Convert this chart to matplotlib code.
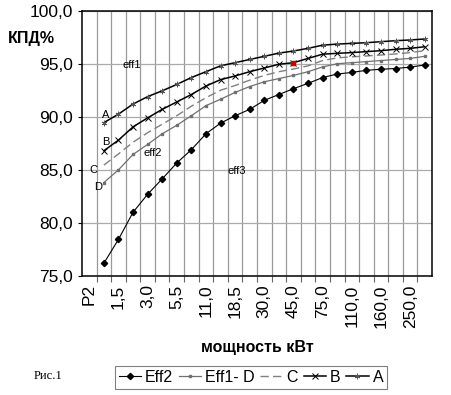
import matplotlib
matplotlib.use('Agg')
import matplotlib.pyplot as plt
import numpy as np

# categories (power, kW); label only every second one
power = ['P2', '1,1', '1,5', '2,2', '3,0', '4,0', '5,5', '7,5', '11,0', '15,0',
         '18,5', '22,0', '30,0', '37,0', '45,0', '55,0', '75,0', '90,0',
         '110,0', '132,0', '160,0', '200,0', '250,0', '315,0']

# efficiency values, one per category starting at '1,1'
effA = [89.45, 90.25, 91.2, 91.9, 92.45, 93.05, 93.7, 94.25, 94.8, 95.1, 95.4,
        95.7, 96.0, 96.2, 96.45, 96.75, 96.85, 96.92, 96.98, 97.08, 97.17,
        97.24, 97.33]
effB = [86.8, 87.8, 89.05, 89.9, 90.7, 91.4, 92.1, 92.9, 93.5, 93.85, 94.25,
        94.6, 94.95, 95.1, 95.5, 95.9, 95.98, 96.05, 96.14, 96.23, 96.36,
        96.45, 96.6]
effC = [85.45, 86.5, 87.6, 88.5, 89.3, 90.1, 91.0, 91.8, 92.5, 92.95, 93.45,
        93.9, 94.25, 94.5, 94.8, 95.3, 95.55, 95.65, 95.73, 95.82, 95.92,
        96.05, 96.23]
effD = [83.8, 85.0, 86.45, 87.4, 88.4, 89.2, 90.1, 91.05, 91.65, 92.3, 92.85,
        93.3, 93.6, 93.9, 94.25, 94.7, 95.0, 95.1, 95.2, 95.3, 95.4, 95.5, 95.7]
eff2 = [76.2, 78.45, 81.0, 82.7, 84.15, 85.65, 86.9, 88.4, 89.4, 90.1, 90.7,
        91.55, 92.1, 92.65, 93.15, 93.7, 94.03, 94.18, 94.38, 94.48, 94.55,
        94.68, 94.88]
markIdx = 13  # highlighted point on B (45,0 kW)

plt.rcParams['font.family'] = ['Liberation Sans', 'DejaVu Sans']

fig = plt.figure(figsize=(4.52, 3.95), dpi=100)
ax = fig.add_axes([0.1814, 0.3013, 0.7744, 0.6717])

x = np.arange(1, len(power)) + 0.5

# grid: vertical lines at category boundaries, horizontal at major y ticks
ax.set_xticks(np.arange(1, len(power)), minor=True)
ax.xaxis.grid(True, which='minor', color='#999999', lw=0.9)
ax.yaxis.grid(True, which='major', color='#aaaaaa', lw=0.9)
ax.set_axisbelow(True)

ax.plot(x, eff2, color='k', lw=0.8, marker='D', ms=3.2, label='Eff2')
ax.plot(x, effD, color='#707070', lw=0.9, marker='s', ms=1.6, label='Eff1- D')
ax.plot(x, effC, color='#808080', lw=1.0, ls=(0, (6, 3)), label='C')
ax.plot(x, effB, color='k', lw=1.1, marker='x', ms=5, mew=0.7, label='B')
ax.plot(x, effA, color='k', lw=1.1, marker=(6, 2, 0), ms=4, mew=0.6,
        mec='#555555', label='A')
ax.plot(x[markIdx], effB[markIdx], 's', color='#d00000', ms=3.5, zorder=5)

ax.set_xlim(0, len(power))
ax.set_ylim(75, 100)
ax.set_yticks(np.arange(75, 101, 5))
ax.set_yticklabels(['{:.1f}'.format(v).replace('.', ',') for v in np.arange(75, 101, 5)],
                   fontsize=12.5)
ax.set_xticks(np.arange(0, len(power), 2) + 0.5)
ax.set_xticklabels(power[::2], rotation=90, fontsize=12.5)
ax.tick_params(axis='x', which='major', length=0, pad=6)
ax.tick_params(axis='y', length=3, width=0.8)
ax.tick_params(axis='x', which='minor', length=4, width=0.8, color='#666666')
for s in ax.spines.values():
    s.set_linewidth(1.1)

# labels inside the plot
ax.text(2.8, 94.6, 'eff1', fontsize=8)
ax.text(4.2, 86.3, 'eff2', fontsize=8)
ax.text(10.0, 84.6, 'eff3', fontsize=8)
ax.text(1.4, 89.9, 'A', fontsize=8)
ax.text(1.4, 87.3, 'B', fontsize=8)
ax.text(0.5, 84.7, 'C', fontsize=8)
ax.text(0.8, 83.1, 'D', fontsize=8)

fig.text(0.017, 0.903, 'КПД%', fontsize=11.5, fontweight='bold', va='center')
fig.text(0.57, 0.108, 'мощность кВт', fontsize=11.5, fontweight='bold', ha='center')
fig.text(0.075, 0.047, 'Рис.1', fontsize=9, family='Liberation Serif', va='center')

leg = fig.legend(handles=ax.get_lines()[:5], loc='center',
                 bbox_to_anchor=(0.555, 0.045), ncol=5,
                 fontsize=11.5, handlelength=1.4, handletextpad=0.25,
                 columnspacing=0.35, borderpad=0.25, fancybox=False,
                 edgecolor='#808080', framealpha=1)
leg.get_frame().set_linewidth(0.8)

plt.savefig('out.png', dpi=100)
